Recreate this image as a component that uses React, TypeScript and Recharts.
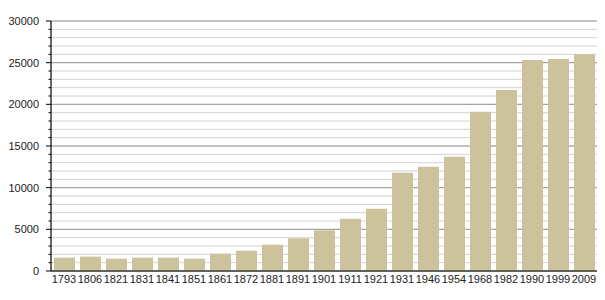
import { BarChart, Bar, XAxis, YAxis, CartesianGrid } from "recharts";

const years = [
  "1793", "1806", "1821", "1831", "1841", "1851", "1861", "1872", "1881", "1891",
  "1901", "1911", "1921", "1931", "1946", "1954", "1968", "1982", "1990", "1999", "2009",
];
const population = [
  1600, 1720, 1480, 1600, 1600, 1480, 2080, 2440, 3160, 3920,
  4880, 6280, 7480, 11800, 12520, 13720, 19120, 21720, 25320, 25440, 26000,
];
const minorTicks = [
  0, 1000, 2000, 3000, 4000, 5000, 6000, 7000, 8000, 9000, 10000, 11000, 12000, 13000, 14000, 15000,
  16000, 17000, 18000, 19000, 20000, 21000, 22000, 23000, 24000, 25000, 26000, 27000, 28000, 29000, 30000,
];
const majorTicks = [0, 5000, 10000, 15000, 20000, 25000, 30000];

const data = years.map((year, i) => ({ year, value: population[i] }));

const font = '"Liberation Sans", Arial, sans-serif';

interface TickProps {
  x?: number;
  y?: number;
  payload?: { value: number };
}

const YTick = ({ x = 0, y = 0, payload }: TickProps) => {
  const v = payload ? payload.value : 0;
  const major = v % 5000 === 0;
  return (
    <g>
      <line x1={x - (major ? 5 : 2.5)} x2={x} y1={y} y2={y} stroke="#000" strokeWidth={1} />
      {major && (
        <text x={x - 12} y={y} dy="0.35em" textAnchor="end" fontSize={11} fill="#222" fontFamily={font}>
          {v}
        </text>
      )}
    </g>
  );
};

export default function App() {
  return (
    <div style={{ position: "absolute", left: 0, top: 0, background: "#fff" }}>
      <BarChart
        width={605}
        height={300}
        data={data}
        margin={{ top: 21, right: 8, bottom: 9, left: 0 }}
        barSize={21}
      >
        <CartesianGrid vertical={false} horizontalValues={minorTicks} stroke="#d2d2d2" strokeWidth={1} />
        <CartesianGrid vertical={false} horizontalValues={majorTicks} stroke="#9a9a9a" strokeWidth={1} />
        <XAxis
          dataKey="year"
          interval={0}
          height={20}
          tickLine={false}
          tickSize={0}
          tickMargin={4}
          axisLine={{ stroke: "#000", strokeWidth: 1.2 }}
          tick={{ fontSize: 11, fill: "#222", fontFamily: font }}
        />
        <YAxis
          width={51}
          domain={[0, 30000]}
          ticks={minorTicks}
          interval={0}
          tickLine={false}
          tickSize={0}
          tickMargin={0}
          axisLine={{ stroke: "#000", strokeWidth: 1.2 }}
          tick={<YTick />}
        />
        <Bar dataKey="value" fill="#ccc29b" isAnimationActive={false} />
      </BarChart>
    </div>
  );
}
